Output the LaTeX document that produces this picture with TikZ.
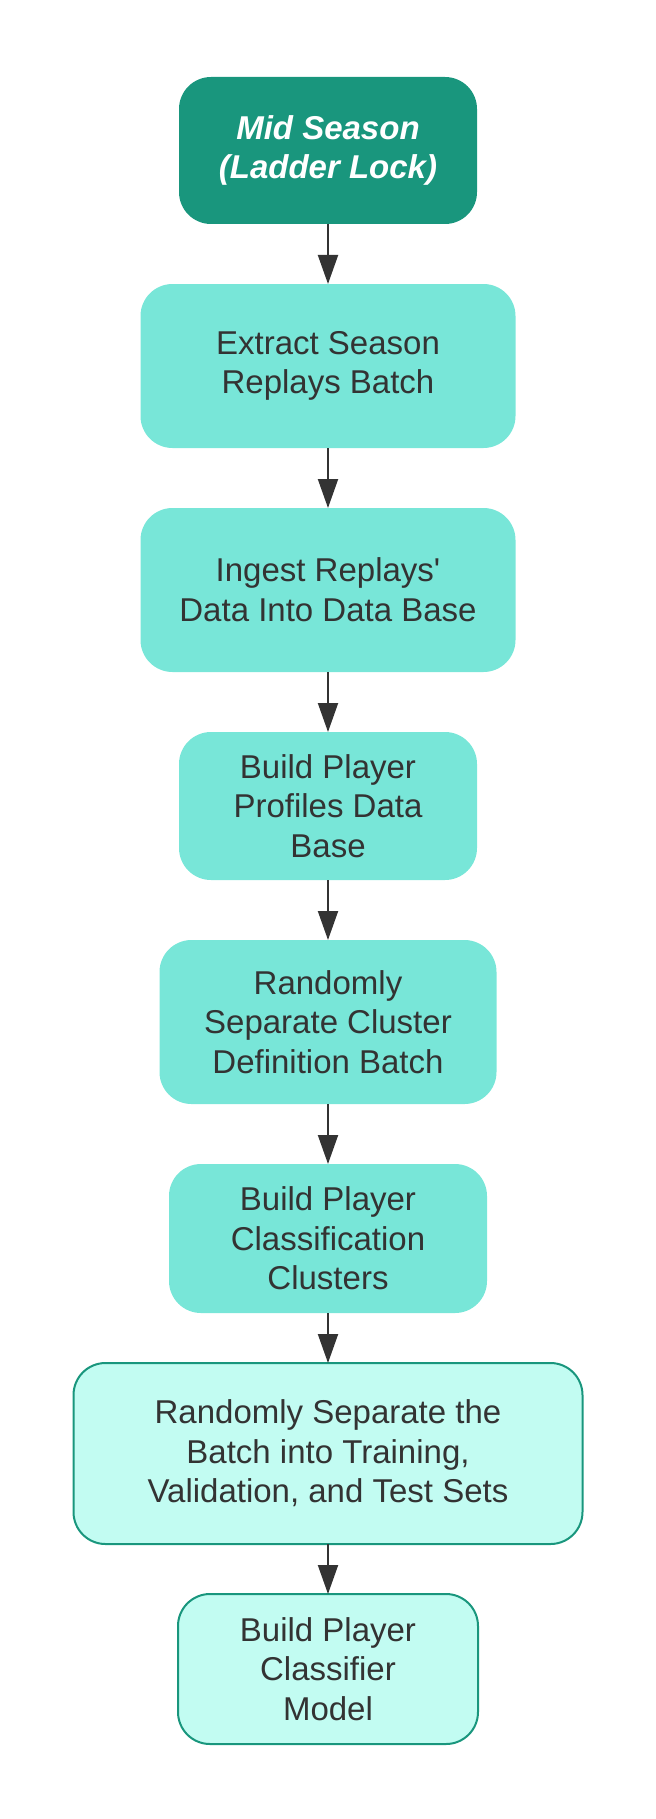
\documentclass[tikz,border=0pt]{standalone}
\usepackage{fontspec}
\setmainfont{Liberation Sans}
\usetikzlibrary{arrows.meta,positioning}
\definecolor{Deep}{HTML}{19967D}
\definecolor{Aqua}{HTML}{78E6D8}
\definecolor{Pale}{HTML}{C2FCF2}
\definecolor{Ink}{HTML}{333333}
\tikzset{
  startbox/.style={
    rounded corners=16pt, fill=Deep, text=white, align=center, outer sep=0pt,
    minimum width=149pt, minimum height=73.5pt,
    font=\fontsize{16.5}{19.8}\selectfont\bfseries\itshape
  },
  stepbox/.style={
    rounded corners=16pt, fill=Aqua, text=Ink, align=center, outer sep=0pt,
    minimum width=187.5pt, minimum height=82pt,
    font=\fontsize{16.5}{19.8}\selectfont
  },
  lastbox/.style={
    stepbox, fill=Pale, draw=Deep, line width=1pt
  },
  flow/.style={-{Triangle[length=14.5pt,width=10pt]}, line width=1pt, draw=Ink}
}

\begin{document}
\begin{tikzpicture}[node distance=30pt]
    \useasboundingbox (0,0) rectangle (328pt,-909.5pt);
    \node[startbox] (a) at (164pt,-75.25pt) {Mid Season\\(Ladder Lock)};
    \node[stepbox,below=of a] (b) {Extract Season\\Replays Batch};
    \node[stepbox,below=of b] (c) {Ingest Replays\textquotesingle\\Data Into Data Base};
    \node[stepbox,below=of c,minimum width=149pt,minimum height=74pt] (d) {Build Player\\Profiles Data\\Base};
    \node[stepbox,below=of d,minimum width=168.5pt] (e) {Randomly\\Separate Cluster\\Definition Batch};
    \node[stepbox,below=of e,minimum width=159pt,minimum height=74.5pt] (f) {Build Player\\Classification\\Clusters};
    \node[lastbox,below=25pt of f,minimum width=254.5pt,minimum height=90.5pt] (g) {Randomly Separate the\\Batch into Training,\\Validation, and Test Sets};
    \node[lastbox,below=25pt of g,minimum width=150pt,minimum height=75pt] (h) {Build Player\\Classifier\\Model};
    \draw[flow] (a)--(b);
    \draw[flow] (b)--(c);
    \draw[flow] (c)--(d);
    \draw[flow] (d)--(e);
    \draw[flow] (e)--(f);
    \draw[flow] (f)--(g);
    \draw[flow] (g)--(h);
\end{tikzpicture}
\end{document}
